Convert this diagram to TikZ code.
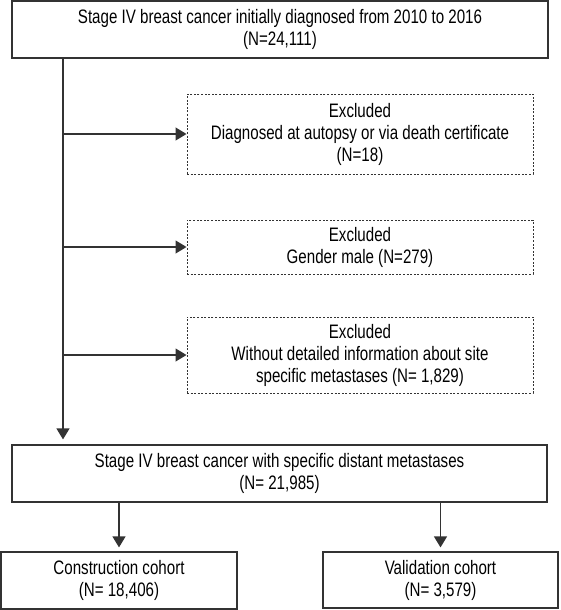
\documentclass[tikz,border=0pt]{standalone}
\usepackage{fontspec}
\setmainfont{Liberation Sans}[FakeStretch=0.775]
\usetikzlibrary{arrows.meta}

\tikzset{
  box/.style={draw=black!80, line width=1.2pt, align=center, inner sep=0pt, font=\fontsize{19.5}{22}\selectfont},
  exbox/.style={box, dash pattern=on 2pt off 1.6pt, line width=1pt},
  flow/.style={draw=black!80, line width=1.2pt, -{Triangle[length=11pt,width=13pt]}},
}

\begin{document}
\begin{tikzpicture}[x=1pt, y=-1pt]
        \useasboundingbox (0,0) rectangle (560,610);

        \node[box, minimum width=536pt, minimum height=57pt] (1) at (280,29.5) {Stage IV breast cancer initially diagnosed from 2010 to 2016\\(N=24,111)};
        \node[exbox, minimum width=346pt, minimum height=80pt] (2) at (360,134) {Excluded\\Diagnosed at autopsy or via death certificate\\(N=18)};
        \node[exbox, minimum width=346pt, minimum height=54pt] (3) at (360,247) {Excluded\\Gender male (N=279)};
        \node[exbox, minimum width=346pt, minimum height=76pt] (4) at (360,355) {Excluded\\Without detailed information about site\\specific metastases (N= 1,829)};
        \node[box, minimum width=535pt, minimum height=57pt] (5) at (279.5,473.5) {Stage IV breast cancer with specific distant metastases\\(N= 21,985)};
        \node[box, minimum width=236pt, minimum height=57pt] (6) at (119,580.5) {Construction cohort\\(N= 18,406)};
        \node[box, minimum width=235pt, minimum height=56pt] (7) at (440.5,580) {Validation cohort\\(N= 3,579)};

        \coordinate (s) at (63,0);

        \draw[flow, shorten >=5pt] (1.south -| s) -- (5.north -| s);
        \draw[flow] (2.west -| s) -- (2.west);
        \draw[flow] (3.west -| s) -- (3.west);
        \draw[flow] (4.west -| s) -- (4.west);
        \draw[flow, shorten >=4pt] (5.south -| 6.north) -- (6.north);
        \draw[flow, shorten >=4pt] (5.south -| 7.north) -- (7.north);
      \end{tikzpicture}
\end{document}
